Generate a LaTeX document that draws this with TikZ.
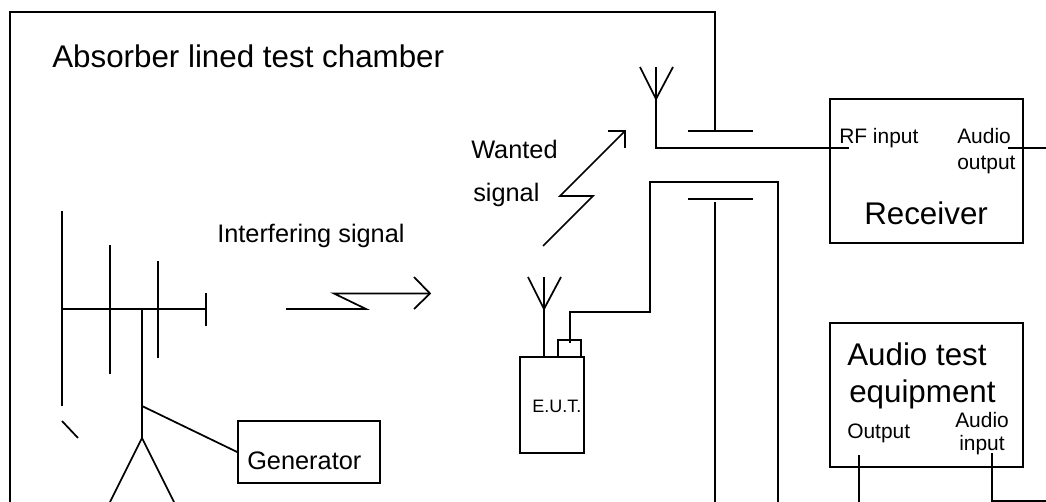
\documentclass[tikz,border=0pt]{standalone}
\usepackage{fontspec}
\setmainfont{Liberation Sans}
\usetikzlibrary{calc}
\tikzset{
    % Instrument boxes
    unitbox/.style={
        draw=black,
        fill=none,
        inner sep=0pt,
        line width=1.3pt
    },
    % All wires and antenna strokes
    wire/.style={
        draw=black,
        line width=1.3pt
    },
    % Text labels, placed by their baseline
    biglabel/.style={anchor=base west, inner sep=0pt, font=\fontsize{23.5}{26}\selectfont},
    midlabel/.style={anchor=base west, inner sep=0pt, font=\fontsize{19}{22}\selectfont},
    portlabel/.style={anchor=base west, inner sep=0pt, font=\fontsize{15.7}{18}\selectfont},
    eutlabel/.style={anchor=base west, inner sep=0pt, font=\fontsize{13.5}{16}\selectfont}
}

\begin{document}
\begin{tikzpicture}[x=0.75pt,y=-0.75pt]
\useasboundingbox (0,0) rectangle (1046,502);

% ==================== BOXES ====================
\node[unitbox, minimum width=144.75pt, minimum height=108pt] (receiver) at (926.5,171) {};
\node[unitbox, minimum width=144.75pt, minimum height=108pt] (audiotest) at (926.5,395) {};
\node[unitbox, minimum width=106.5pt, minimum height=46.5pt] (generator) at (309,452) {};
\node[unitbox, minimum width=48pt, minimum height=72pt] (eut) at (552,405) {};
\node[unitbox, minimum width=17.25pt, minimum height=12.75pt] (connector) at (569.5,348.5) {};

% ==================== CHAMBER WALL ====================
\coordinate (wallbottom) at (10,502);
\coordinate (walltop) at (715,12);
\coordinate (upperplate) at (715,131);
\coordinate (lowerplate) at (715,199);
\coordinate (lowerstem) at (715,202);
\coordinate (lowerend) at (715,502);
\draw[wire] (wallbottom) |- (walltop) -- (upperplate);
\draw[wire] (688,131) -- (753,131);
\draw[wire] (688,199) -- (753,199);
\draw[wire] (lowerstem) -- (lowerend);

% ==================== TRANSMIT ANTENNA ====================
\coordinate (boomleft) at (62,309);
\coordinate (boomright) at (206,309);
\coordinate (boomfeed) at (142,309);
\coordinate (mastfoot) at (142,438);
\coordinate (mastjoin) at (142,406);
\draw[wire] (boomleft) -- (boomright);
\draw[wire] (62,211) -- (62,406);
\draw[wire] (110,245) -- (110,374);
\draw[wire] (158,261) -- (158,358);
\draw[wire] (206,293) -- (206,326);
\draw[wire] (boomfeed) -- (mastfoot);
\draw[wire] (110,502) -- (mastfoot) -- (174,502);
\draw[wire] (62,421) -- (78,438);
\draw[wire] (mastjoin) -- (generator.west);

% ==================== SIGNAL ARROWS ====================
\coordinate (interfhead) at (430,293.5);
\draw[wire] (286,309) -- (366,309) -- (334,293.5) -- (interfhead);
\draw[wire] (414,277) -- (interfhead) -- (414,309);
\coordinate (wantedhead) at (625,131);
\draw[wire] (543,246) -- (593,196) -- (560,196) -- (wantedhead);
\draw[wire] (608,131) -- (wantedhead) -- (625,148);

% ==================== RECEIVE ANTENNA ====================
\coordinate (rxfork) at (656,99);
\coordinate (rxbend) at (656,148);
\coordinate (rfport) at (849,148);
\draw[wire] (656,67) -- (rxfork) -- (rxbend) -- (rfport);
\draw[wire] (640,67) -- (rxfork) -- (673,67);

% ==================== E.U.T. ANTENNA AND CABLE ====================
\coordinate (eutfork) at (544,309);
\draw[wire] (544,277) -- (eutfork) -- (eut.north -| eutfork);
\draw[wire] (528,277) -- (eutfork) -- (561,277);
\coordinate (cableend) at (570,343);
\draw[wire] (cableend) -- (570,312) -- (650,312) -- (650,182) -- (778,182) -- (778,502);

% ==================== AUDIO LEADS ====================
\coordinate (audioout) at (1008,148);
\coordinate (audiooutend) at (1046,148);
\draw[wire] (audioout) -- (audiooutend);
\coordinate (outputport) at (859,455);
\coordinate (outputend) at (859,502);
\draw[wire] (outputport) -- (outputend);
\coordinate (audioin) at (992,453);
\coordinate (audioinend) at (1046,501);
\draw[wire] (audioin) |- (audioinend);

% ==================== LABELS ====================
\node[biglabel] (chamberlabel) at (52,68) {Absorber lined test chamber};
\node[midlabel] (interflabel) at (217,243) {Interfering signal};
\node[midlabel] (wantedlabel) at (471,159) {Wanted};
\node[midlabel] (signallabel) at (473,202) {signal};
\node[midlabel] (generatorlabel) at (247,469) {Generator};
\node[eutlabel] (eutlabel) at (532,412) {E.U.T.};
\node[portlabel] (rflabel) at (839,144) {RF input};
\node[portlabel] (audiolabel) at (957,144) {Audio};
\node[portlabel] (outputlabel) at (957,170) {output};
\node[biglabel] (receiverlabel) at (864,225) {Receiver};
\node[biglabel] (testlabel) at (847,365) {Audio test};
\node[biglabel] (equiplabel) at (849,402) {equipment};
\node[portlabel] (outlabel) at (847,438) {Output};
\node[portlabel] (inaudiolabel) at (955,427) {Audio};
\node[portlabel] (inlabel) at (959,450) {input};

\end{tikzpicture}
\end{document}
